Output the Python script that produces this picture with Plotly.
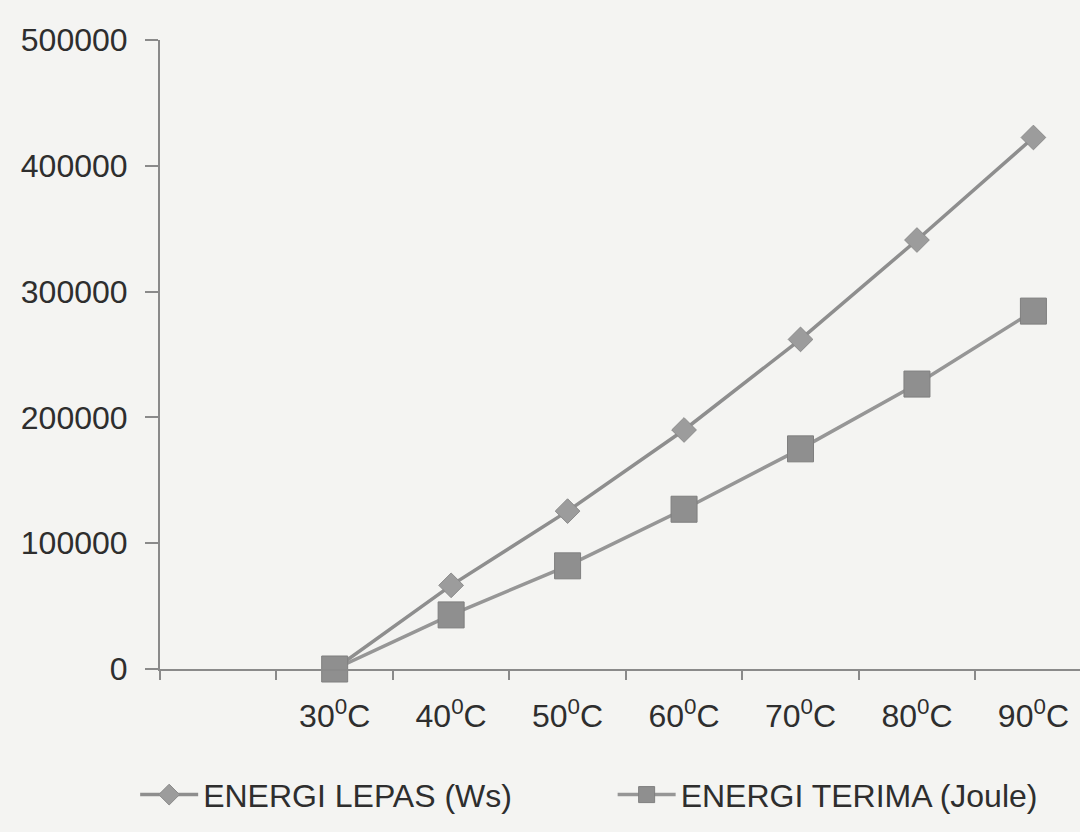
import plotly.graph_objects as go

# Temperature categories (a blank slot precedes the first reading)
blank_slot = " "
temps = ["30<sup>0</sup>C", "40<sup>0</sup>C", "50<sup>0</sup>C", "60<sup>0</sup>C",
         "70<sup>0</sup>C", "80<sup>0</sup>C", "90<sup>0</sup>C"]

# Energy values per temperature
energi_lepas = [0, 66500, 125500, 190000, 262000, 341000, 422500]
energi_terima = [0, 43000, 82000, 127000, 175000, 226500, 284500]

y_ticks = [0, 100000, 200000, 300000, 400000, 500000]

FONT = "Liberation Sans, Arial, sans-serif"
AXIS_GRAY = "#8a8a8a"
TEXT = "#2e2e2e"

fig = go.Figure()

fig.add_trace(go.Scatter(
    x=temps, y=energi_lepas, mode="lines+markers",
    name="ENERGI LEPAS (Ws)",
    line=dict(color="#8e8e8e", width=3.5),
    marker=dict(symbol="diamond", size=19, color="#9c9c9c",
                line=dict(color="#8a8a8a", width=1)),
    cliponaxis=False,
    legend="legend",
))

fig.add_trace(go.Scatter(
    x=temps, y=energi_terima, mode="lines+markers",
    name="ENERGI TERIMA (Joule)",
    line=dict(color="#969696", width=3.5),
    marker=dict(symbol="square", size=26, color="#8f8f8f",
                line=dict(color="#7f7f7f", width=1)),
    cliponaxis=False,
    legend="legend2",
))

legend_style = dict(
    orientation="h", xanchor="left", y=-0.2, yanchor="middle",
    font=dict(family=FONT, size=32, color=TEXT),
    bgcolor="rgba(0,0,0,0)", itemwidth=58,
)

fig.update_layout(
    width=1080, height=832,
    margin=dict(l=160, r=0, t=40, b=163),
    paper_bgcolor="#f4f4f2",
    plot_bgcolor="rgba(0,0,0,0)",
    font=dict(family=FONT, size=32, color=TEXT),
    showlegend=True,
    legend=dict(x=-0.027, **legend_style),
    legend2=dict(x=0.492, **legend_style),
)

fig.update_xaxes(
    type="category",
    categoryorder="array",
    categoryarray=[blank_slot] + temps,
    range=[-0.5, 7.4],
    tickson="boundaries",
    ticks="outside", ticklen=9, tickwidth=1.5, tickcolor=AXIS_GRAY,
    showline=True, linecolor=AXIS_GRAY, linewidth=2,
    showgrid=False, zeroline=False,
    tickfont=dict(family=FONT, size=32, color=TEXT),
    ticklabelstandoff=18,
)

fig.update_yaxes(
    range=[0, 500000],
    tickvals=y_ticks, tickformat="d",
    ticks="outside", ticklen=13, tickwidth=1.5, tickcolor=AXIS_GRAY,
    showline=True, linecolor=AXIS_GRAY, linewidth=2,
    showgrid=False, zeroline=False,
    tickfont=dict(family=FONT, size=32, color=TEXT),
    ticklabelstandoff=11,
)

fig.write_html("out.html")
